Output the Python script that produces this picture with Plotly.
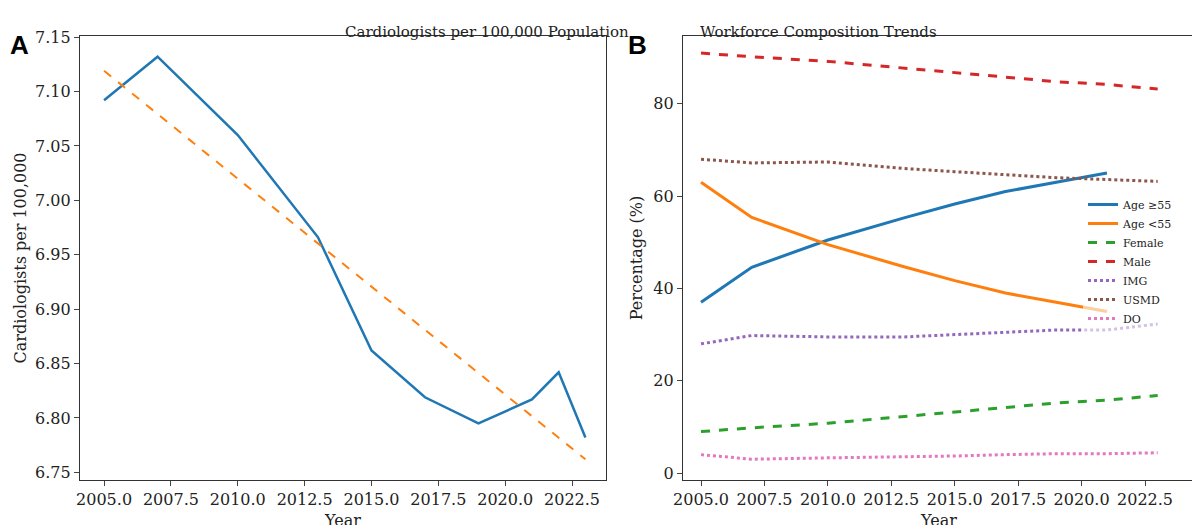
import plotly.graph_objects as go

years_a = [2005, 2007, 2010, 2013, 2015, 2017, 2019, 2021, 2022, 2023]
per100k = [7.092, 7.132, 7.060, 6.966, 6.862, 6.819, 6.795, 6.817, 6.842, 6.782]
trend_years = [2005, 2023]
trend_vals = [7.119, 6.762]

years_b = [2005, 2007, 2010, 2013, 2015, 2017, 2019, 2021, 2023]
age_ge55 = [37, 44.6, 50.5, 55.3, 58.3, 61, 63, 65]
age_lt55 = [63, 55.4, 49.5, 44.7, 41.7, 39, 37, 35]
female = [9, 9.8, 10.8, 12.2, 13.2, 14.2, 15.2, 15.8, 16.8]
male = [91, 90.2, 89.2, 87.8, 86.8, 85.8, 84.8, 84.2, 83.2]
img = [28, 29.8, 29.5, 29.5, 30, 30.5, 31, 31, 32.3]
usmd = [68, 67.2, 67.4, 66, 65.3, 64.6, 64, 63.6, 63.2]
do = [4, 3, 3.3, 3.5, 3.7, 4, 4.2, 4.2, 4.4]

F = "DejaVu Serif"
fig = go.Figure()
fig.add_trace(go.Scatter(x=years_a, y=per100k, mode="lines", line=dict(color="#1f77b4", width=2.5),
                         showlegend=False, xaxis="x", yaxis="y"))
fig.add_trace(go.Scatter(x=trend_years, y=trend_vals, mode="lines", line=dict(color="#ff7f0e", width=2, dash="dash"),
                         showlegend=False, xaxis="x", yaxis="y"))

series = [
    ("Age ≥55", age_ge55, "#1f77b4", "solid"),
    ("Age <55", age_lt55, "#ff7f0e", "solid"),
    ("Female", female, "#2ca02c", "dash"),
    ("Male", male, "#d62728", "dash"),
    ("IMG", img, "#9467bd", "dot"),
    ("USMD", usmd, "#8c564b", "dot"),
    ("DO", do, "#e377c2", "dot"),
]
for name, vals, col, dash in series:
    fig.add_trace(go.Scatter(x=years_b[:len(vals)], y=vals, name=name, mode="lines",
                             line=dict(color=col, width=3, dash=dash), xaxis="x2", yaxis="y2"))

W, H = 1200, 525
def dx(px): return px / W
def dy(py): return 1 - py / H

ax = dict(showline=True, mirror=True, linecolor="#333", linewidth=1.2, ticks="outside", ticklen=5,
          showgrid=False, zeroline=False, tickfont=dict(family=F, size=16, color="#222"))
xt = [2005, 2007.5, 2010, 2012.5, 2015, 2017.5, 2020, 2022.5]
xtt = ["2005.0", "2007.5", "2010.0", "2012.5", "2015.0", "2017.5", "2020.0", "2022.5"]
fig.update_layout(
    width=W, height=H, margin=dict(l=0, r=0, t=0, b=0, autoexpand=False),
    plot_bgcolor="white", paper_bgcolor="white",
    font=dict(family=F, color="#222"),
    xaxis=dict(ax, domain=[dx(72), dx(598)], range=[2004.1, 2023.77], tickvals=xt, ticktext=xtt,
               title=dict(text="Year", font=dict(family=F, size=16), standoff=6), anchor="y"),
    yaxis=dict(ax, domain=[dy(472), dy(28)], range=[6.743, 7.151], tickvals=[6.75, 6.8, 6.85, 6.9, 6.95, 7.0, 7.05, 7.1, 7.15],
               tickformat=".2f", title=dict(text="Cardiologists per 100,000", font=dict(family=F, size=16), standoff=4), anchor="x"),
    xaxis2=dict(ax, domain=[dx(675), dx(1187)], range=[2004.29, 2024.47], tickvals=xt, ticktext=xtt,
                title=dict(text="Year", font=dict(family=F, size=16), standoff=6), anchor="y2"),
    yaxis2=dict(ax, domain=[dy(472), dy(28)], range=[-1.5, 94.7], tickvals=[0, 20, 40, 60, 80],
                title=dict(text="Percentage (%)", font=dict(family=F, size=16), standoff=6), anchor="x2"),
    legend=dict(x=dx(1075), y=dy(182), xanchor="left", yanchor="top", bgcolor="rgba(255,255,255,0.6)",
                font=dict(family=F, size=11), tracegroupgap=0, itemwidth=30),
    annotations=[
        dict(text="Cardiologists per 100,000 Population", x=dx(335), y=dy(13), xref="paper", yref="paper",
             showarrow=False, font=dict(family=F, size=15)),
        dict(text="Workforce Composition Trends", x=dx(931), y=dy(13), xref="paper", yref="paper",
             showarrow=False, font=dict(family=F, size=15)),
        dict(text="<b>A</b>", x=dx(0), y=dy(20), xref="paper", yref="paper", xanchor="left",
             showarrow=False, font=dict(family="Liberation Sans", size=26, color="black")),
        dict(text="<b>B</b>", x=dx(618), y=dy(20), xref="paper", yref="paper", xanchor="left",
             showarrow=False, font=dict(family="Liberation Sans", size=26, color="black")),
    ],
)
fig.write_html("out.html")
